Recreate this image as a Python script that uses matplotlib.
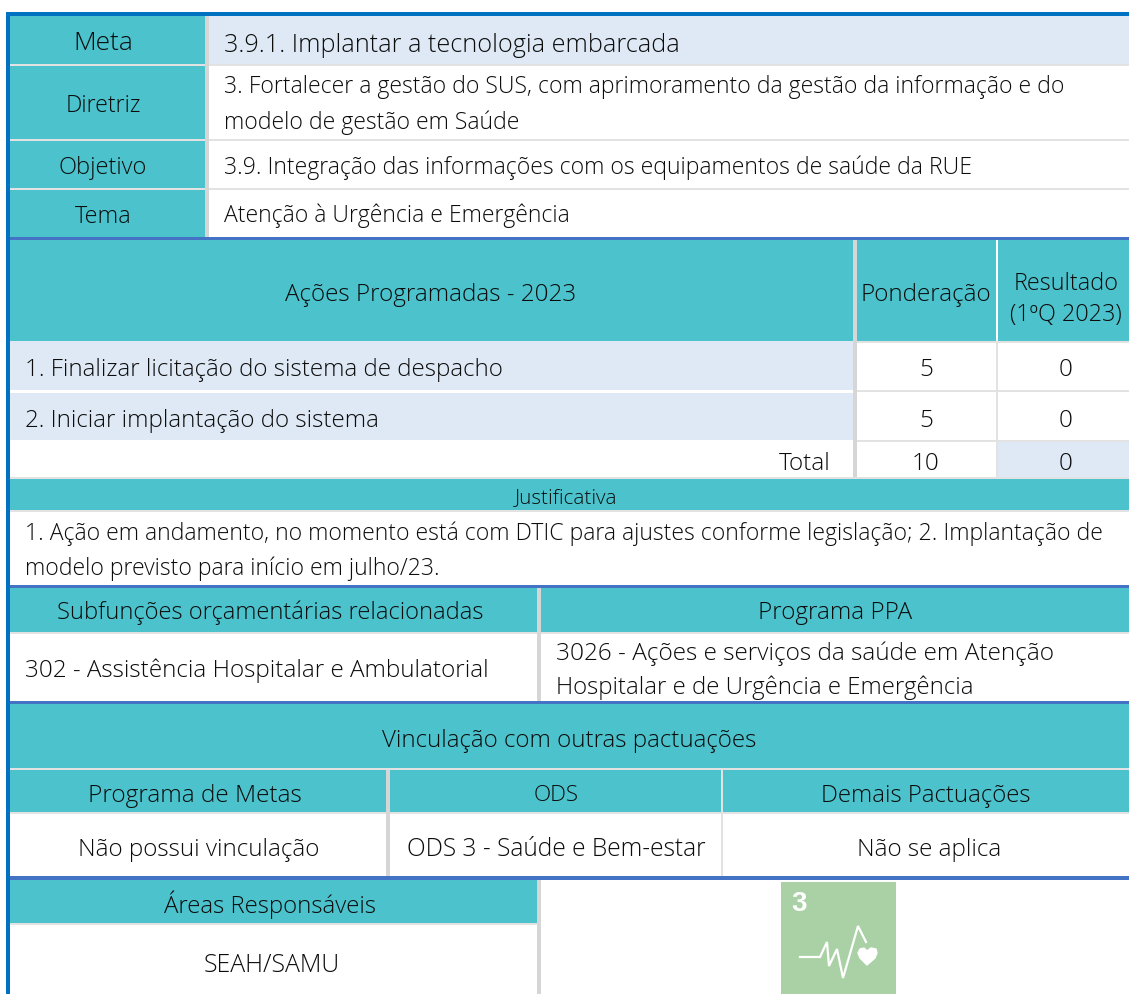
import matplotlib
matplotlib.use("Agg")
import matplotlib.pyplot as plt
from matplotlib.patches import Rectangle, Polygon

plt.rcParams['font.family'] = ['Open Sans', 'DejaVu Sans']

row_labels = ["Meta", "Diretriz", "Objetivo", "Tema"]
row_texts = [
    ["3.9.1. Implantar a tecnologia embarcada"],
    ["3. Fortalecer a gestão do SUS, com aprimoramento da gestão da informação e do",
     "modelo de gestão em Saúde"],
    ["3.9. Integração das informações com os equipamentos de saúde da RUE"],
    ["Atenção à Urgência e Emergência"],
]
action_headers = ["Ações Programadas - 2023", "Ponderação", "Resultado\n(1ºQ 2023)"]
actions = ["1. Finalizar licitação do sistema de despacho", "2. Iniciar implantação do sistema"]
weights = [5, 5]
results = [0, 0]
total_label = "Total"
total_weight = 10
total_result = 0
justif_title = "Justificativa"
justif_lines = [
    "1. Ação em andamento, no momento está com DTIC para ajustes conforme legislação; 2. Implantação de",
    "modelo previsto para início em julho/23.",
]
budget_headers = ["Subfunções orçamentárias relacionadas", "Programa PPA"]
budget_left = "302 - Assistência Hospitalar e Ambulatorial"
budget_right = ["3026 - Ações e serviços da saúde em Atenção", "Hospitalar e de Urgência e Emergência"]
link_title = "Vinculação com outras pactuações"
link_headers = ["Programa de Metas", "ODS", "Demais Pactuações"]
link_values = ["Não possui vinculação", "ODS 3 - Saúde e Bem-estar", "Não se aplica"]
areas_title = "Áreas Responsáveis"
areas_value = "SEAH/SAMU"
ods_number = "3"

TEAL = "#4BC2CC"
PALE = "#DEE9F5"
SEP = "#E2E2E2"
GREY = "#D6D6D6"
BLUE = "#4472C4"
EDGE = "#0070C0"
ICON = "#A9D1A5"
INK = "#0c0c0c"
FS = 16.55
FS_BIG = 17.4

W, H = 1129, 994
fig = plt.figure(figsize=(W / 100, H / 100), dpi=100)
ax = fig.add_axes([0, 0, 1, 1])
ax.set_xlim(0, W)
ax.set_ylim(H, 0)
ax.axis("off")


def box(x0, y0, x1, y1, color, z=1):
    ax.add_patch(Rectangle((x0, y0), x1 - x0, y1 - y0, fc=color, ec="none", lw=0, zorder=z))


def label(x, y, s, ha="center", fs=FS_BIG, ls=1.1):
    ax.text(x, y, s, ha=ha, va="center_baseline", fontsize=fs, color=INK, fontweight="light",
            zorder=5, linespacing=ls)


RIGHT = W

# top block
box(10, 16, 205, 237, TEAL)
box(209, 16, RIGHT, 64, PALE)
box(10, 64, 205, 66, SEP)
box(10, 139, 205, 141, SEP)
box(10, 188, 205, 190, SEP)
box(209, 64, RIGHT, 66, SEP)
box(209, 139, RIGHT, 141, SEP)
box(209, 188, RIGHT, 190, SEP)
box(205, 16, 209, 240, GREY)
row_y = [41, 103, 165, 214]
row_fs = [18.9, 16.7, 17.0, 16.8]
for y, name, fs in zip(row_y, row_labels, row_fs):
    label(103, y, name, fs=fs)
label(224, 42, row_texts[0][0], ha="left", fs=18.2)
label(224, 84, row_texts[1][0], ha="left", fs=FS)
label(224, 120, row_texts[1][1], ha="left", fs=FS)
label(224, 165, row_texts[2][0], ha="left", fs=FS)
label(224, 213, row_texts[3][0], ha="left", fs=FS)
box(10, 237, RIGHT, 240, BLUE, 3)

# actions
box(10, 240, 853, 341, TEAL)
box(857, 240, 996, 341, TEAL)
box(998, 240, RIGHT, 341, TEAL)
label(431, 292, action_headers[0], fs=17.5)
label(926, 292, action_headers[1], fs=17.5)
label(1066, 293, action_headers[2], fs=16.8, ls=1.38)
box(10, 341, 853, 390, PALE)
box(10, 393, 853, 440, PALE)
box(857, 341, RIGHT, 343, SEP)
box(857, 390, RIGHT, 392, SEP)
box(857, 440, RIGHT, 442, SEP)
box(996, 341, 998, 477, SEP)
box(853, 240, 857, 477, GREY)
box(998, 442, RIGHT, 477, PALE)
label(25, 367, actions[0], ha="left", fs=17.35)
label(25, 418, actions[1], ha="left", fs=17.35)
for y, w, r in zip([367, 418], weights, results):
    label(926, y, str(w), fs=17.5)
    label(1066, y, str(r), fs=17.5)
label(831, 461, total_label, ha="right", fs=17.5)
label(926, 461, str(total_weight), fs=17.5)
label(1066, 461, str(total_result), fs=17.5)
box(10, 477, RIGHT, 479, SEP)

# justificativa
box(10, 479, RIGHT, 510, TEAL)
label(566, 496, justif_title, fs=14.9)
box(10, 510, RIGHT, 512, SEP)
label(25, 531, justif_lines[0], ha="left", fs=FS)
label(25, 566, justif_lines[1], ha="left", fs=FS)

# budget
box(10, 585, RIGHT, 588, BLUE, 3)
box(10, 588, 537, 632, TEAL)
box(541, 588, RIGHT, 632, TEAL)
box(10, 632, RIGHT, 634, SEP)
box(537, 588, 541, 704, GREY, 2)
label(270, 610, budget_headers[0], fs=17.15)
label(835, 610, budget_headers[1], fs=17.5)
label(25, 668, budget_left, ha="left", fs=17.45)
label(556, 651, budget_right[0], ha="left", fs=17.55)
label(556, 685, budget_right[1], ha="left", fs=17.3)
box(10, 701, RIGHT, 704, BLUE, 3)

# vinculacao
box(10, 704, RIGHT, 768, TEAL)
label(569, 738, link_title, fs=17.35)
box(10, 768, RIGHT, 770, SEP)
box(10, 770, 386, 812, TEAL)
box(390, 770, 721, 812, TEAL)
box(723, 770, RIGHT, 812, TEAL)
box(10, 812, RIGHT, 814, SEP)
box(386, 770, 390, 876, GREY, 2)
box(721, 770, 723, 876, SEP, 2)
head_fs = [17.55, 16.2, 17.25]
val_fs = [17.45, 17.65, 17.5]
for x, xv, head, val, hf, vf in zip([195, 556, 926], [199, 556, 929], link_headers, link_values, head_fs, val_fs):
    label(x, 793, head, fs=hf)
    label(xv, 847, val, fs=vf)
box(10, 876, RIGHT, 880, BLUE, 3)

# areas + icon
box(10, 880, 537, 923, TEAL)
box(10, 923, 537, 925, SEP)
box(537, 880, 541, H, GREY)
label(270, 902, areas_title, fs=17.3)
label(272, 963, areas_value, fs=17.95)

box(781, 882, 896, H, ICON)
ax.text(791, 904, ods_number, ha="left", va="center", fontsize=20, fontweight="bold",
        family=["Liberation Sans Narrow", "Liberation Sans"], color="white", zorder=5)
ecg_x = [800, 820, 827, 829, 837, 843, 858, 866]
ecg_y = [957, 957, 942, 966, 949, 978, 926, 942]
ax.plot(ecg_x, ecg_y, color="white", lw=1.6, solid_joinstyle="miter", zorder=5)
heart_x = [867, 860, 858, 860, 864, 867, 871, 876, 877, 875]
heart_y = [965, 958, 953, 949, 948, 951, 948, 949, 953, 958]
ax.add_patch(Polygon(list(zip(heart_x, heart_y)), closed=True, fc="white", ec="white", lw=1, joinstyle="round", zorder=5))

# outer frame
box(6, 12, RIGHT, 16, EDGE, 4)
box(6, 12, 10, H, EDGE, 4)

fig.savefig("out.png", dpi=100)
